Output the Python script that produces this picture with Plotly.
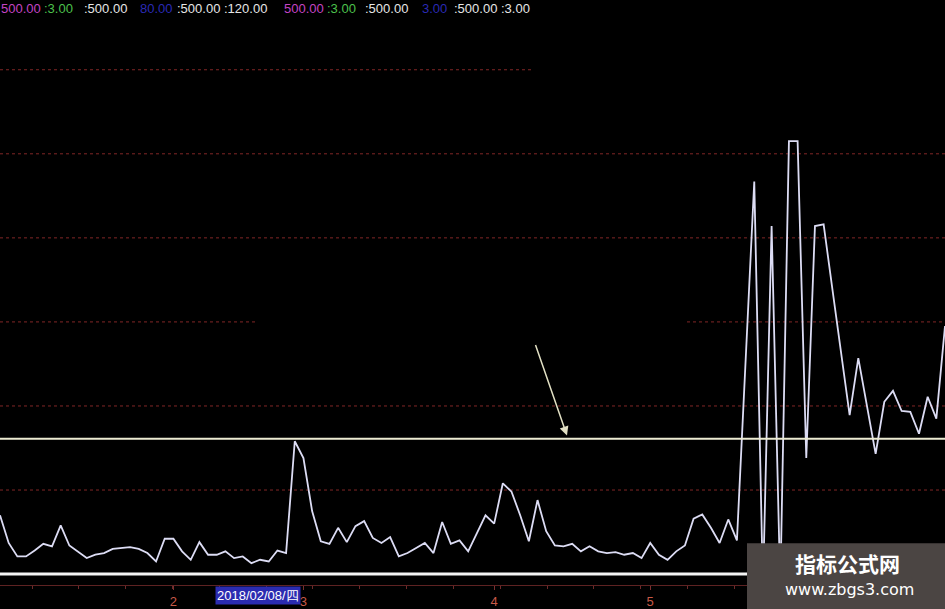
import plotly.graph_objects as go

# ---------------- data ----------------
values = [70, 37, 21, 21, 28, 36, 33, 58, 34, 26,
          19, 23, 25, 30, 31, 32, 30, 25, 15, 42,
          42, 27, 17, 38, 23, 23, 27, 19, 21, 13,
          17, 15, 28, 25, 158, 138, 75, 39, 36, 55,
          38, 57, 63, 43, 37, 44, 21, 25, 31, 37,
          25, 62, 36, 40, 27, 49, 70, 60, 108, 98,
          70, 39, 88, 51, 34, 33, 36, 27, 33, 27,
          25, 26, 23, 25, 19, 37, 23, 17, 27, 34,
          66, 71, 55, 37, 65, 40, 254, 467, -17, 414,
          -17, 515, 515, 138, 414, 416, 340, 264, 189, 257,
          200, 143, 205, 218, 194, 193, 167, 211, 185, 295]
days = list(range(len(values)))

month_ticks = [20, 35, 57, 75]
month_labels = ["2", "3", "4", "5"]
cursor_label = "2018/02/08/四"

ref_upper = 161
ref_base = 0
grid_levels = [100, 200, 300, 400, 500, 600]

legend_texts = ["500.00", ":3.00", ":500.00", "80.00", ":500.00 :120.00",
                "500.00", ":3.00", ":500.00", "3.00", ":500.00 :3.00"]

watermark_title = "指标公式网"
watermark_url = "www.zbgs3.com"

# ---------------- figure ----------------
W, H = 945, 609
MB = 22
PH = H - MB  # plot height in px
NARROW = "Liberation Sans Narrow, Liberation Sans, Arial, sans-serif"


def py(pix):
    """pixel y (from top of page) -> paper y"""
    return 1 - pix / PH


fig = go.Figure()
fig.add_trace(go.Scatter(
    x=days, y=values, mode="lines",
    line=dict(color="#dcdcf4", width=1.8),
    hoverinfo="skip", showlegend=False))

shapes = []
grid_extents = {
    100: [(0, 1)],
    200: [(0, 1)],
    300: [(0, 256 / W), (687 / W, 1)],
    400: [(0, 1)],
    500: [(0, 1)],
    600: [(0, 533 / W)],
}
for lvl in grid_levels:
    for a, b in grid_extents[lvl]:
        shapes.append(dict(type="line", xref="paper", yref="y", x0=a, x1=b,
                           y0=lvl, y1=lvl, layer="below",
                           line=dict(color="rgba(150,45,45,0.85)", width=1, dash="dot")))
shapes.append(dict(type="line", xref="paper", yref="y", x0=0, x1=1,
                   y0=ref_upper, y1=ref_upper, layer="above",
                   line=dict(color="#ecebd2", width=2)))
shapes.append(dict(type="line", xref="paper", yref="y", x0=0, x1=1,
                   y0=ref_base, y1=ref_base, layer="above",
                   line=dict(color="#f4f4f4", width=3)))
shapes.append(dict(type="rect", xref="paper", yref="paper",
                   x0=747 / W, x1=1, y0=py(H + 2), y1=py(545), layer="above",
                   line=dict(width=0), fillcolor="#4b4543"))

annotations = []
legend_colors = ["#c444c4", "#4cc04c", "#e6e6e6", "#2a2ab4", "#e6e6e6",
                 "#c444c4", "#4cc04c", "#e6e6e6", "#2a2ab4", "#e6e6e6"]
legend_x = [0, 43, 83, 139, 176, 283, 326, 364, 421, 453]
for t, c, x in zip(legend_texts, legend_colors, legend_x):
    annotations.append(dict(text=t, xref="paper", yref="paper", x=x / W, y=1,
                            xanchor="left", yanchor="top", yshift=0, showarrow=False,
                            borderpad=0,
                            font=dict(family=NARROW, size=13, color=c)))

annotations.append(dict(text="", xref="paper", yref="paper", x=567 / W, y=py(437),
                        ax=-32, ay=-92, axref="pixel", ayref="pixel", showarrow=True,
                        arrowhead=2, arrowsize=1.2, arrowwidth=1.5, arrowcolor="#e2e0c4"))

annotations.append(dict(text=cursor_label, xref="paper", yref="paper", x=258 / W, y=py(598),
                        xanchor="center", yanchor="middle", showarrow=False,
                        bgcolor="#2b2bb0", borderpad=1,
                        font=dict(family=NARROW, size=13, color="#ffffff")))

annotations.append(dict(text="<b>" + watermark_title + "</b>", xref="paper", yref="paper",
                        x=847 / W, y=py(565), xanchor="center", yanchor="middle", showarrow=False,
                        font=dict(family="Noto Sans CJK SC", size=21, color="#ffffff")))
annotations.append(dict(text=watermark_url, xref="paper", yref="paper",
                        x=849 / W, y=py(592), xanchor="center", yanchor="middle", showarrow=False,
                        font=dict(family="DejaVu Sans, Noto Sans, sans-serif", size=16, color="#ffffff")))

fig.update_layout(
    width=W, height=H,
    margin=dict(l=0, r=0, t=0, b=MB, pad=0),
    paper_bgcolor="#000000", plot_bgcolor="#000000",
    shapes=shapes, annotations=annotations,
    xaxis=dict(range=[0, 109], showgrid=False, zeroline=False,
               showline=True, linecolor="#5e2222", linewidth=1,
               tickmode="array", tickvals=month_ticks, ticktext=month_labels,
               ticks="outside", ticklen=4, tickcolor="#7a3030",
               tickfont=dict(family=NARROW, size=13, color="#c85a48"),
               minor=dict(ticks="outside", ticklen=3, tickcolor="#6e2a2a",
                          tick0=3.7, dtick=5.4)),
    yaxis=dict(range=[-13, 683], showgrid=False, zeroline=False,
               showticklabels=False, showline=False, ticks=""),
)

fig.write_html("out.html",
               config={"displayModeBar": False},
               post_script="document.body.style.margin='0';document.body.style.padding='0';"
                           "document.body.style.background='#000';"
                           "document.documentElement.style.background='#000';")
